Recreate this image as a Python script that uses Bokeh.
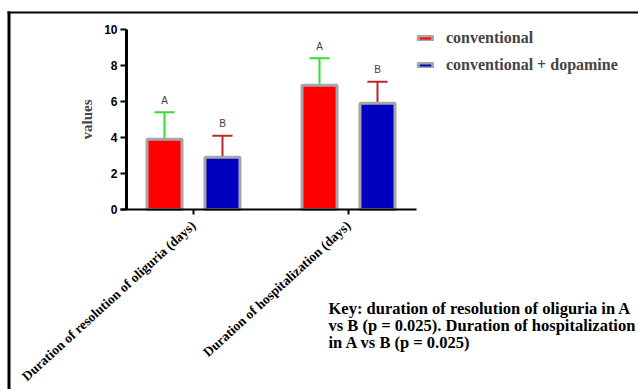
from bokeh.plotting import figure
from bokeh.models import Range1d, FixedTicker, Legend, LegendItem, Label, ColumnDataSource, BoxAnnotation
from bokeh.core.properties import value
from bokeh.embed import file_html
from bokeh.resources import INLINE

categories = ["Duration of resolution of oliguria (days)", "Duration of hospitalization (days)"]
cat_x = [1, 2]
series_names = ["conventional", "conventional + dopamine"]
conv_mean = [3.9, 6.9]
conv_upper = [5.4, 8.4]
dopa_mean = [2.9, 5.9]
dopa_upper = [4.1, 7.1]
conv_letters = ["A", "A"]
dopa_letters = ["B", "B"]
y_ticks = [0, 2, 4, 6, 8, 10]
key_lines = ["Key: duration of resolution of oliguria in A",
             "vs B (p = 0.025). Duration of hospitalization",
             "in A vs B (p = 0.025)"]

RED = "#FF0000"
BLUE = "#0000C0"
GRAY = "#A6A6A6"
GREEN = "#33DD33"
DRED = "#B82828"
SERIF = "Liberation Serif"
SANS = "Liberation Sans"

off = 0.187
bw = 0.226
cap = 0.065

W, H = 638, 389
# 155 px per category unit, 18 px per value unit; the frame covers the whole canvas
p = figure(width=W, height=H, output_backend="svg", toolbar_location=None,
           x_range=Range1d(-0.2452, 3.871), y_range=Range1d(-10.0, 11.611),
           min_border_left=0, min_border_top=0, min_border_right=0, min_border_bottom=0)
p.outline_line_color = None
p.xgrid.visible = False
p.ygrid.visible = False
p.background_fill_color = "white"
p.border_fill_color = "white"

# outer frame lines (top and left) of the original figure
for l, r, t, b in [(7, 638, 11, 13), (7, 10, 11, 389)]:
    p.add_layout(BoxAnnotation(left=l, right=r, top=t, bottom=b,
                               left_units="canvas", right_units="canvas",
                               top_units="canvas", bottom_units="canvas",
                               fill_color="black", fill_alpha=1, line_color=None))

xc = [x - off for x in cat_x]
xd = [x + off for x in cat_x]
src_c = ColumnDataSource(dict(x=xc, top=conv_mean, up=conv_upper, lab=conv_letters,
                              x0=[x - cap for x in xc], x1=[x + cap for x in xc],
                              ly=[u + 0.65 for u in conv_upper]))
src_d = ColumnDataSource(dict(x=xd, top=dopa_mean, up=dopa_upper, lab=dopa_letters,
                              x0=[x - cap for x in xd], x1=[x + cap for x in xd],
                              ly=[u + 0.7 for u in dopa_upper]))

p.segment(x0="x", y0="top", x1="x", y1="up", source=src_c, line_color=GREEN, line_width=2)
p.segment(x0="x0", y0="up", x1="x1", y1="up", source=src_c, line_color=GREEN, line_width=2)
p.segment(x0="x", y0="top", x1="x", y1="up", source=src_d, line_color=DRED, line_width=2)
p.segment(x0="x0", y0="up", x1="x1", y1="up", source=src_d, line_color=DRED, line_width=2)

rc = p.vbar(x="x", top="top", bottom=0, width=bw, source=src_c, fill_color=RED, line_color=GRAY, line_width=3)
rd = p.vbar(x="x", top="top", bottom=0, width=bw, source=src_d, fill_color=BLUE, line_color=GRAY, line_width=3)

p.text(x="x", y="ly", text="lab", source=src_c, text_align="center", text_baseline="middle",
       text_font=value(SANS), text_font_size="10px", text_color="#404040")
p.text(x="x", y="ly", text="lab", source=src_d, text_align="center", text_baseline="middle",
       text_font=value(SANS), text_font_size="10px", text_color="#404040")

ya = p.yaxis[0]
ya.fixed_location = 0.5677
ya.ticker = FixedTicker(ticks=y_ticks)
ya.bounds = (0, 10)
ya.minor_tick_line_color = None
ya.major_tick_out = 6
ya.major_tick_in = 0
ya.major_tick_line_width = 2
ya.axis_line_width = 3
ya.major_label_text_font = SANS
ya.major_label_text_font_style = "bold"
ya.major_label_text_font_size = "12px"
ya.major_label_text_color = "black"
ya.major_label_standoff = 3
ya.axis_label = "values"
ya.axis_label_text_font = SERIF
ya.axis_label_text_font_style = "bold"
ya.axis_label_text_font_size = "15px"
ya.axis_label_standoff = 6

xa = p.xaxis[0]
xa.fixed_location = 0
xa.ticker = FixedTicker(ticks=cat_x)
xa.major_label_overrides = {cat_x[i]: categories[i] for i in range(len(cat_x))}
xa.bounds = (0.53, 2.44)
xa.minor_tick_line_color = None
xa.major_tick_out = 5
xa.major_tick_in = 0
xa.major_tick_line_width = 2
xa.axis_line_width = 2
xa.major_label_orientation = 0.74
xa.major_label_text_font = SERIF
xa.major_label_text_font_style = "bold"
xa.major_label_text_font_size = "13.5px"
xa.major_label_text_color = "black"
xa.major_label_standoff = 9

legend = Legend(items=[LegendItem(label=series_names[0], renderers=[rc]),
                       LegendItem(label=series_names[1], renderers=[rd])],
                location=(416, 315), padding=0, spacing=9, margin=0,
                glyph_width=18, glyph_height=6, label_standoff=12, label_height=16,
                border_line_color=None, background_fill_alpha=0,
                label_text_font=SERIF, label_text_font_style="bold", label_text_font_size="16px")
p.add_layout(legend, "center")

key_y = [308, 325, 342]
for i, line in enumerate(key_lines):
    p.add_layout(Label(x=328, y=key_y[i], x_units="canvas", y_units="canvas", text=line,
                       text_baseline="middle", text_align="left",
                       text_font=SERIF, text_font_style="bold", text_font_size="16.5px",
                       text_color="black"))

open("out.html", "w").write(file_html(p, INLINE))
